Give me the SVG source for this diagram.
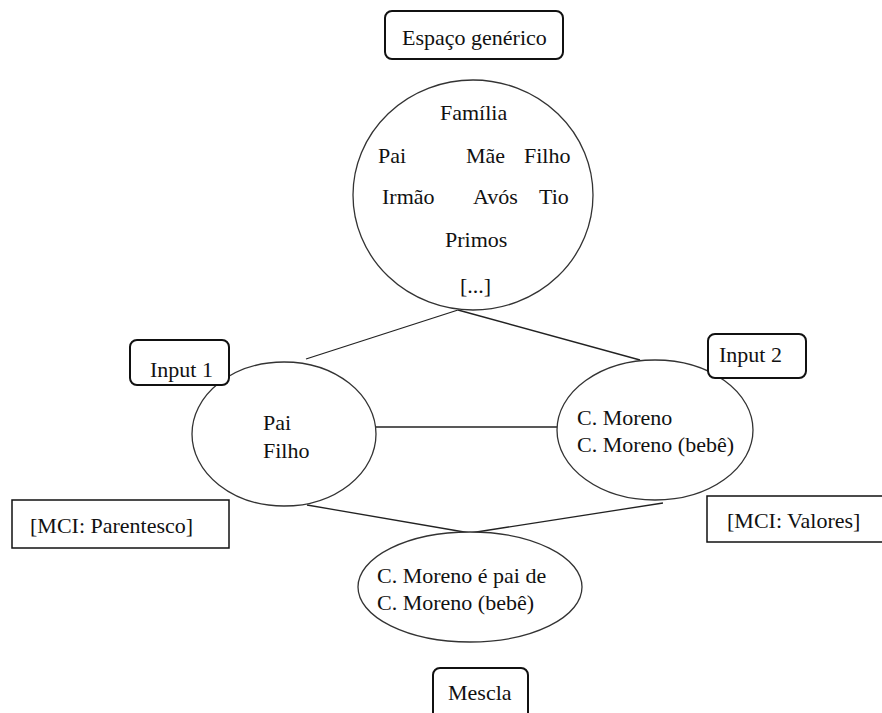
<svg xmlns="http://www.w3.org/2000/svg" width="882" height="713" viewBox="0 0 882 713" font-family="'Liberation Serif', 'Times New Roman', serif">
<style>
text{font-size:22px;fill:#111}
.lbl{fill:#fff;stroke:#111;stroke-width:2}
.box{fill:#fff;stroke:#111;stroke-width:1.5}
.ell{fill:#fff;stroke:#333;stroke-width:1.3}
.con{stroke:#222;stroke-width:1.3;fill:none}
</style>
<rect width="882" height="713" fill="#fff"/>
<g id="connectors">
<line class="con" x1="458" y1="310" x2="306" y2="359"/>
<line class="con" x1="458" y1="310" x2="640" y2="360"/>
<line class="con" x1="376" y1="427" x2="557" y2="427"/>
<line class="con" x1="307" y1="505" x2="470" y2="533"/>
<line class="con" x1="663" y1="503" x2="470" y2="533"/>
</g>
<g id="espaco-generico">
<rect class="lbl" x="385" y="11" width="178" height="48" rx="7"/>
<text x="402" y="45">Espaço genérico</text>
</g>
<g id="familia">
<ellipse class="ell" cx="473" cy="195" rx="120" ry="115"/>
<text x="440" y="120">Família</text>
<text x="378" y="163">Pai</text>
<text x="466" y="163">Mãe</text>
<text x="524" y="163">Filho</text>
<text x="382" y="204">Irmão</text>
<text x="473" y="204">Avós</text>
<text x="539" y="204">Tio</text>
<text x="445" y="247">Primos</text>
<text x="460" y="293">[...]</text>
</g>
<g id="input1-space">
<ellipse class="ell" cx="284" cy="434" rx="92" ry="72"/>
<text x="263" y="430">Pai</text>
<text x="263" y="458">Filho</text>
</g>
<g id="input1">
<rect class="lbl" x="130" y="340" width="99" height="45" rx="7"/>
<text x="150" y="377">Input 1</text>
</g>
<g id="input2-space">
<ellipse class="ell" cx="655" cy="430" rx="98" ry="70"/>
<text x="577" y="425">C. Moreno</text>
<text x="577" y="452">C. Moreno (bebê)</text>
</g>
<g id="input2">
<rect class="lbl" x="708" y="334" width="98" height="44" rx="7"/>
<text x="719" y="362">Input 2</text>
</g>
<g id="mci-parentesco">
<rect class="box" x="12" y="500" width="217" height="48"/>
<text x="30" y="533">[MCI: Parentesco]</text>
</g>
<g id="mci-valores">
<rect class="box" x="707" y="496" width="180" height="46"/>
<text x="727" y="528">[MCI: Valores]</text>
</g>
<g id="mescla-space">
<ellipse class="ell" cx="470" cy="587" rx="112" ry="55"/>
<text x="377" y="583">C. Moreno é pai de</text>
<text x="377" y="610">C. Moreno (bebê)</text>
</g>
<g id="mescla">
<rect class="lbl" x="433" y="668" width="95" height="60" rx="7"/>
<text x="448" y="700">Mescla</text>
</g>
</svg>
